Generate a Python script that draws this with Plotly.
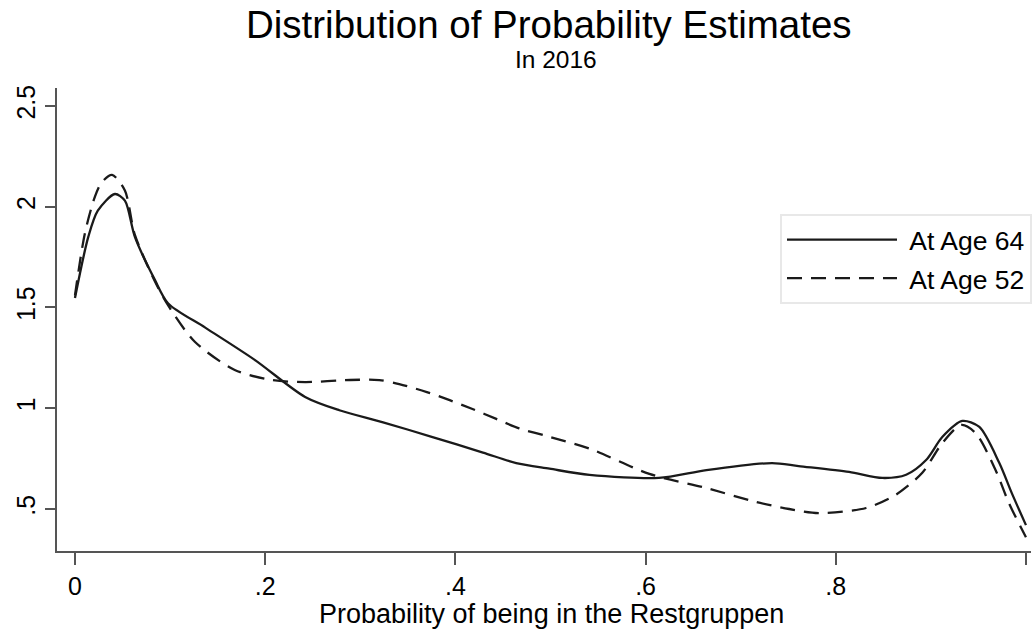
import plotly.graph_objects as go

# Data
age64_x = [0, 0.014, 0.024, 0.042, 0.0525, 0.063, 0.084, 0.098, 0.137, 0.189, 0.242, 0.278,
           0.324, 0.376, 0.429, 0.464, 0.499, 0.541, 0.614, 0.664, 0.733, 0.761, 0.814, 0.849,
           0.874, 0.895, 0.912, 0.933, 0.951, 0.972, 0.985, 1.0]
age64_y = [1.547, 1.85, 1.98, 2.063, 2.03, 1.85, 1.637, 1.52, 1.40, 1.24, 1.056, 0.99,
           0.93, 0.857, 0.78, 0.728, 0.70, 0.669, 0.654, 0.693, 0.728, 0.713, 0.684, 0.654,
           0.67, 0.743, 0.857, 0.937, 0.907, 0.728, 0.58, 0.42]

age52_x = [0, 0.0105, 0.021, 0.028, 0.039, 0.0525, 0.063, 0.084, 0.098, 0.126, 0.168, 0.207,
           0.242, 0.289, 0.32, 0.341, 0.37, 0.394, 0.418, 0.443, 0.467, 0.496, 0.541, 0.604,
           0.664, 0.716, 0.751, 0.782, 0.832, 0.863, 0.891, 0.912, 0.932, 0.947, 0.968, 0.982, 1.0]
age52_y = [1.56, 1.87, 2.05, 2.12, 2.158, 2.08, 1.86, 1.63, 1.51, 1.33, 1.19, 1.14,
           1.13, 1.14, 1.14, 1.12, 1.08, 1.04, 0.996, 0.947, 0.90, 0.862, 0.80, 0.674,
           0.604, 0.535, 0.50, 0.48, 0.505, 0.57, 0.68, 0.827, 0.917, 0.877, 0.694, 0.53, 0.36]

series_names = ["At Age 64", "At Age 52"]

x_ticks = [0, 0.2, 0.4, 0.6, 0.8, 1]
x_tick_labels = ["0", ".2", ".4", ".6", ".8", "1"]
y_ticks = [0.5, 1, 1.5, 2, 2.5]
y_tick_labels = [".5", "1", "1.5", "2", "2.5"]

title_text = "Distribution of Probability Estimates"
subtitle_text = "In 2016"
x_label = "Probability of being in the Restgruppen"

FONT = "Liberation Sans, Arial, sans-serif"

fig = go.Figure()
fig.add_trace(go.Scatter(x=age64_x, y=age64_y, mode="lines", name="&nbsp;" + series_names[0],
                         legendgroup="a",
                         line=dict(color="#1a1a1a", width=2.3, shape="spline", smoothing=0.8)))
fig.add_trace(go.Scatter(x=age52_x, y=age52_y, mode="lines", name="&nbsp;" + series_names[1],
                         legendgroup="b",
                         line=dict(color="#1a1a1a", width=2.3, shape="spline", smoothing=0.8,
                                   dash="15px,9px")))

fig.update_layout(
    width=1032, height=644,
    margin=dict(l=57, r=0, t=88, b=93, pad=0),
    paper_bgcolor="white", plot_bgcolor="white",
    font=dict(family=FONT, color="black"),
    showlegend=True,
    legend=dict(x=0.7426, y=0.7279, xanchor="left", yanchor="top",
                bgcolor="white", bordercolor="#e8e8e8", borderwidth=2,
                font=dict(size=26.5, family=FONT, color="black"),
                itemwidth=110, tracegroupgap=1),
    xaxis=dict(range=[-0.0189, 1.0053], tickmode="array", tickvals=x_ticks,
               ticktext=x_tick_labels, showgrid=False, zeroline=False,
               showline=True, linecolor="#555555", linewidth=2,
               ticks="outside", ticklen=12, tickwidth=2, tickcolor="#555555",
               tickfont=dict(size=25, family=FONT, color="black")),
    yaxis=dict(range=[0.2916, 2.589], tickmode="array", tickvals=y_ticks,
               ticktext=y_tick_labels, showgrid=False, zeroline=False,
               showline=True, linecolor="#555555", linewidth=2,
               ticks="outside", ticklen=10, tickwidth=2, tickcolor="#555555",
               tickangle=-90,
               tickfont=dict(size=25, family=FONT, color="black")),
    annotations=[
        dict(text=title_text, xref="paper", yref="paper", x=0.505, y=1.138,
             xanchor="center", yanchor="middle", showarrow=False,
             font=dict(size=38.5, family=FONT, color="black")),
        dict(text=subtitle_text, xref="paper", yref="paper", x=0.512, y=1.0605,
             xanchor="center", yanchor="middle", showarrow=False,
             font=dict(size=24.5, family=FONT, color="black")),
        dict(text=x_label, xref="paper", yref="paper", x=0.508, y=-0.136,
             xanchor="center", yanchor="middle", showarrow=False,
             font=dict(size=27, family=FONT, color="black")),
    ],
)

fig.write_html("out.html")
